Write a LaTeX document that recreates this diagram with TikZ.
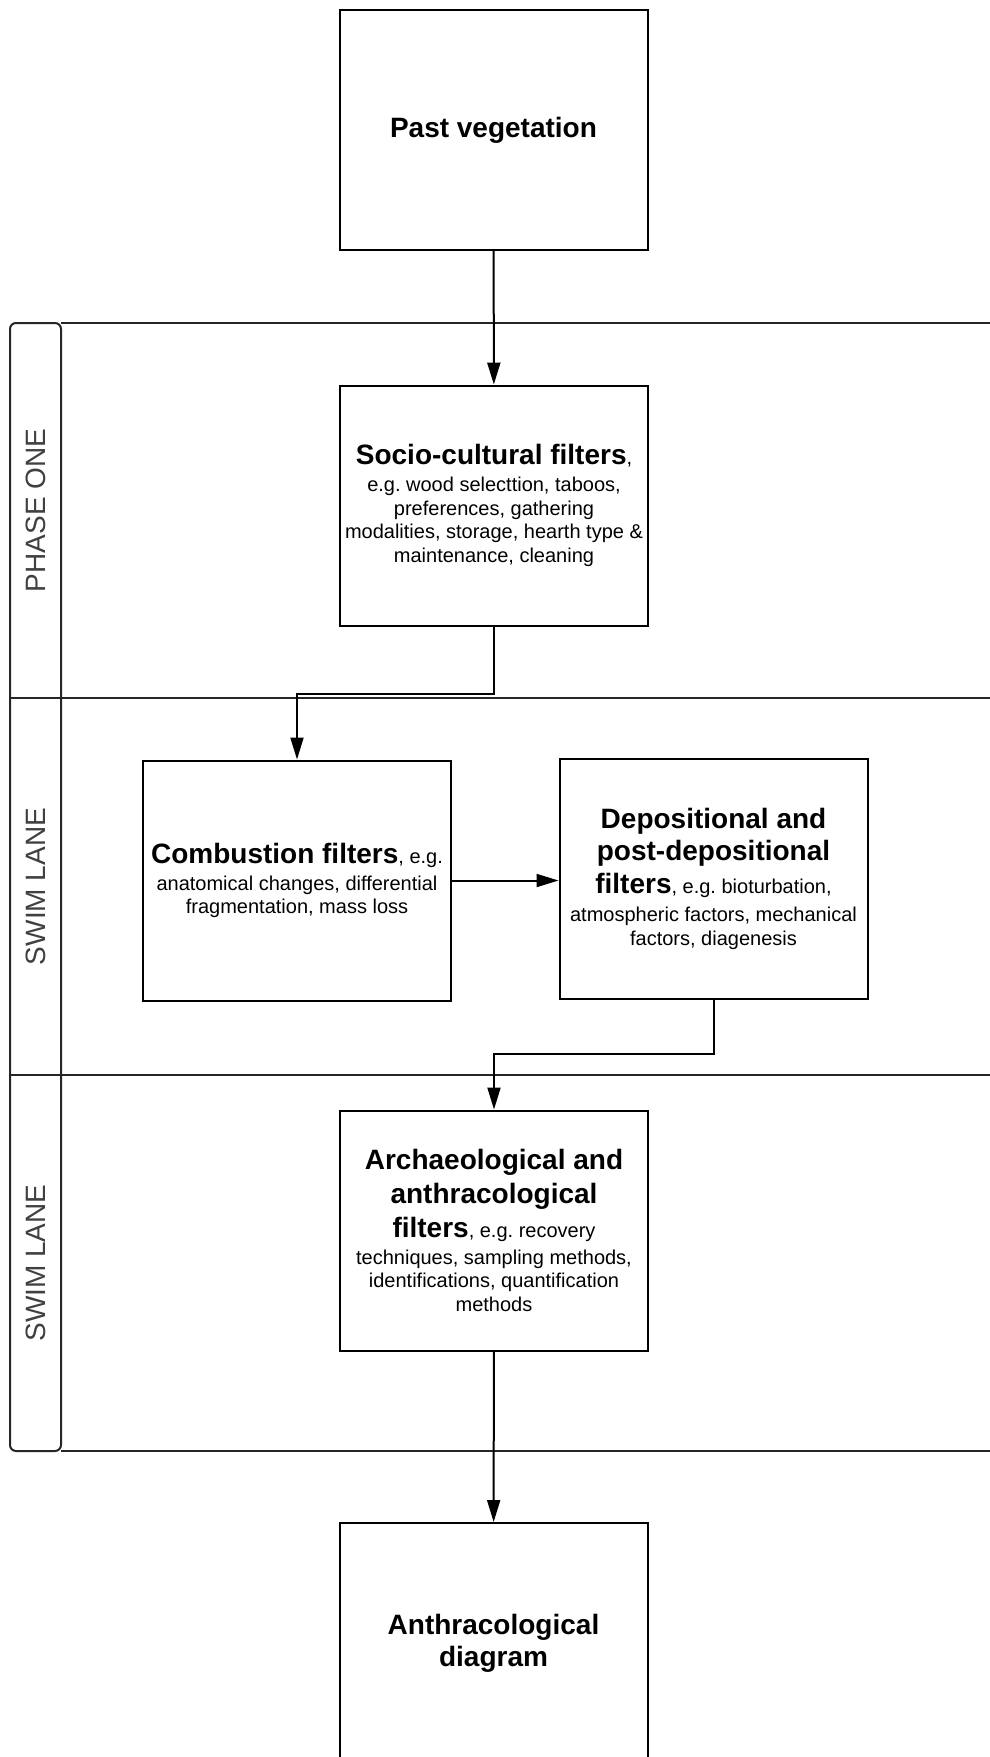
\documentclass[tikz,border=0pt]{standalone}
\usepackage{fontspec}
\setmainfont{Liberation Sans}
\usepackage{tikz}
\usetikzlibrary{arrows.meta,positioning}
\frenchspacing

\newcommand{\boxtitle}[1]{{\fontsize{28}{32}\selectfont\bfseries #1}}

\begin{document}
\begin{tikzpicture}[x=1pt, y=-1pt,
    filterbox/.style={draw, line width=2pt, minimum width=308pt, minimum height=240pt, inner sep=0pt, align=center, font=\fontsize{20}{23.5}\selectfont},
    lanelabel/.style={rotate=90, font=\fontsize{28}{32}\selectfont, text=black!75},
    lane/.style={line width=2pt, draw=black!85},
    flow/.style={line width=2pt, -{Triangle[length=22pt, width=13pt]}}]
    \useasboundingbox (0,0) rectangle (990,1757);

    % swim lanes
    \draw[lane, rounded corners=6pt] (10,323) rectangle (61,1451);
    \draw[lane] (61,323) -- (1000,323);
    \draw[lane] (10,698) -- (1000,698);
    \draw[lane] (10,1075) -- (1000,1075);
    \draw[lane] (61,1451) -- (1000,1451);
    \node[lanelabel] (phase) at (35.5,510.5) {PHASE ONE};
    \node[lanelabel] (laneb) at (35.5,886.5) {SWIM LANE};
    \node[lanelabel] (lanec) at (35.5,1263) {SWIM LANE};

    % boxes
    \node[filterbox] (past) at (493.5,130) {\boxtitle{Past vegetation}};
    \node[filterbox] (socio) at (494,505.5) {\boxtitle{Socio-cultural filters},\\[3.5pt]
        e.g. wood selecttion, taboos,\\
        preferences, gathering\\
        modalities, storage, hearth type \&\\
        maintenance, cleaning};
    \node[filterbox] (comb) at (297,880.5) {\boxtitle{Combustion filters}, e.g.\\[3.5pt]
        anatomical changes, differential\\
        fragmentation, mass loss};
    \node[filterbox] (depo) at (713.5,878.5) {\boxtitle{Depositional and}\\[5.7pt]
        \boxtitle{post-depositional}\\[5.7pt]
        \boxtitle{filters}, e.g. bioturbation,\\[4.5pt]
        atmospheric factors, mechanical\\
        factors, diagenesis};
    \node[filterbox] (arch) at (494,1230.5) {\boxtitle{Archaeological and}\\[6.5pt]
        \boxtitle{anthracological}\\[6.5pt]
        \boxtitle{filters}, e.g. recovery\\[3.5pt]
        techniques, sampling methods,\\
        identifications, quantification\\
        methods};
    \node[filterbox] (anth) at (493.5,1643) {\boxtitle{Anthracological}\\[5pt]
        \boxtitle{diagram}};

    % connectors
    \draw[flow] (past) -- (socio);
    \draw[flow] (socio.south) -- ++(0,67) -| (comb.north);
    \draw[flow] (comb.east) -- (depo.west |- comb.east);
    \draw[flow] (depo.south) -- ++(0,54) -| (arch.north);
    \draw[flow] (arch) -- (anth);
\end{tikzpicture}
\end{document}
